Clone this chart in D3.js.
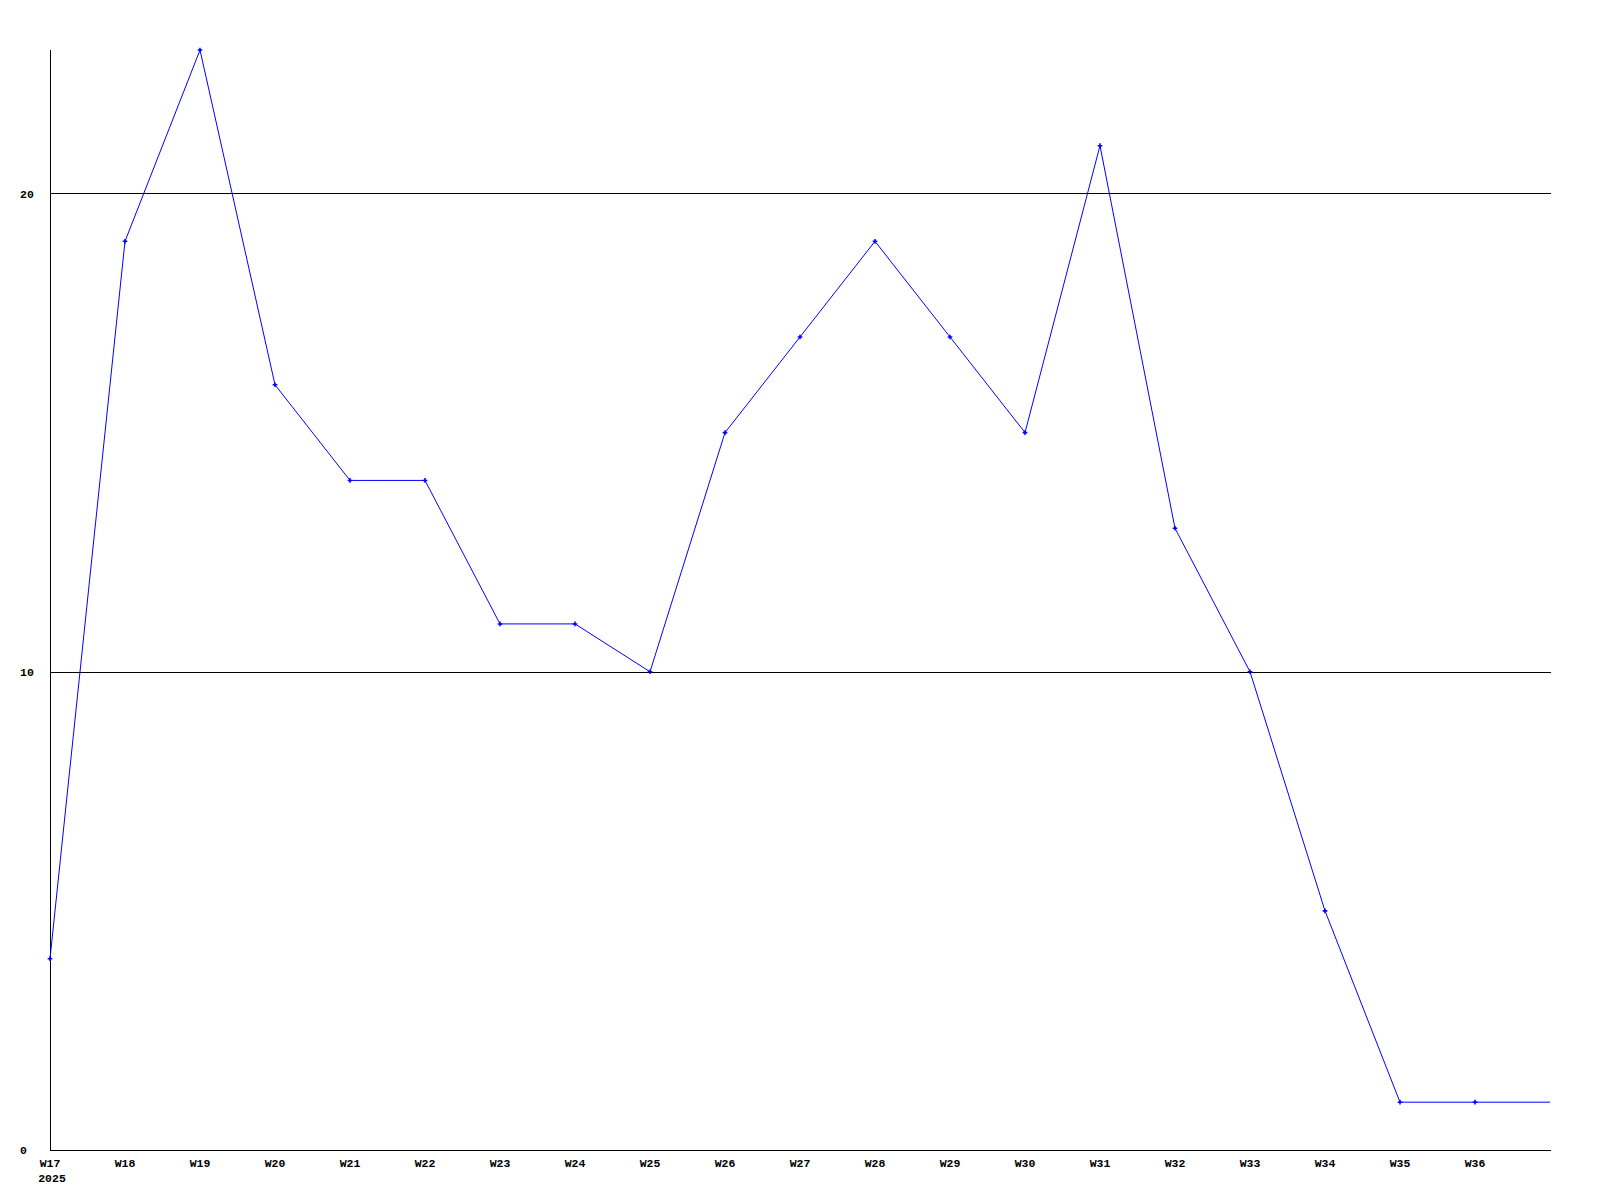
<!DOCTYPE html>
<html><head><meta charset="utf-8">
<script src="https://cdn.jsdelivr.net/npm/d3@7"></script>
<style>body{margin:0;background:#fff}</style>
</head><body>
<script>
const categories = ["W17","W18","W19","W20","W21","W22","W23","W24","W25","W26","W27","W28","W29","W30","W31","W32","W33","W34","W35","W36"];
const values = [4,19,23,16,14,14,11,11,10,15,17,19,17,15,21,13,10,5,1,1];
const yTicks = [0,10,20];
const yearLabel = "2025";

(function () {
const W = 1600, H = 1200;
const mLeft = 50, mRight = 1551, mTop = 50, mBottom = 1150;
const svg = d3.select("body").append("svg").attr("width", W).attr("height", H);

const x = d3.scaleLinear().domain([0, categories.length]).range([mLeft, mRight - 1]);
const y = d3.scaleLinear().domain([0, 23]).range([mBottom, mTop]);

const font = "'Liberation Mono', 'DejaVu Sans Mono', monospace";

// gridlines
svg.append("g").selectAll("line").data(yTicks.filter(d => d > 0)).join("line")
  .attr("x1", mLeft).attr("x2", mRight)
  .attr("y1", d => Math.round(y(d)) + 0.5).attr("y2", d => Math.round(y(d)) + 0.5)
  .attr("stroke", "#000").attr("stroke-width", 1).attr("shape-rendering", "crispEdges");

// axes lines
svg.append("line").attr("x1", mLeft + 0.5).attr("x2", mLeft + 0.5).attr("y1", mTop).attr("y2", mBottom + 0.5)
  .attr("stroke", "#000").attr("shape-rendering", "crispEdges");
svg.append("line").attr("x1", mLeft).attr("x2", mRight).attr("y1", mBottom + 0.5).attr("y2", mBottom + 0.5)
  .attr("stroke", "#000").attr("shape-rendering", "crispEdges");

// y labels
svg.append("g").selectAll("text").data(yTicks).join("text")
  .attr("x", 20).attr("y", d => y(d)).attr("dy", "0.35em")
  .attr("font-family", font).attr("font-weight", "bold").attr("font-size", 11.5)
  .text(d => d);

// x labels
svg.append("g").selectAll("text").data(categories).join("text")
  .attr("x", (d, i) => x(i)).attr("y", 1167).attr("text-anchor", "middle")
  .attr("font-family", font).attr("font-weight", "bold").attr("font-size", 11.5)
  .text(d => d);
svg.append("text").attr("x", x(0) + 2).attr("y", 1182).attr("text-anchor", "middle")
  .attr("font-family", font).attr("font-weight", "bold").attr("font-size", 11.5)
  .text(yearLabel);

// line (last value continues to the end of the x domain)
const pts = values.map((v, i) => [x(i), y(v)]);
pts.push([x(categories.length), y(values[values.length - 1])]);
svg.append("path").attr("d", d3.line()(pts))
  .attr("fill", "none").attr("stroke", "#0000ff").attr("stroke-width", 1);

// markers
svg.append("g").selectAll("path").data(values).join("path")
  .attr("transform", (d, i) => `translate(${x(i)},${y(d)})`)
  .attr("d", d3.symbol(d3.symbolCross, 12))
  .attr("fill", "#0000ff");
})();
</script>
</body></html>
